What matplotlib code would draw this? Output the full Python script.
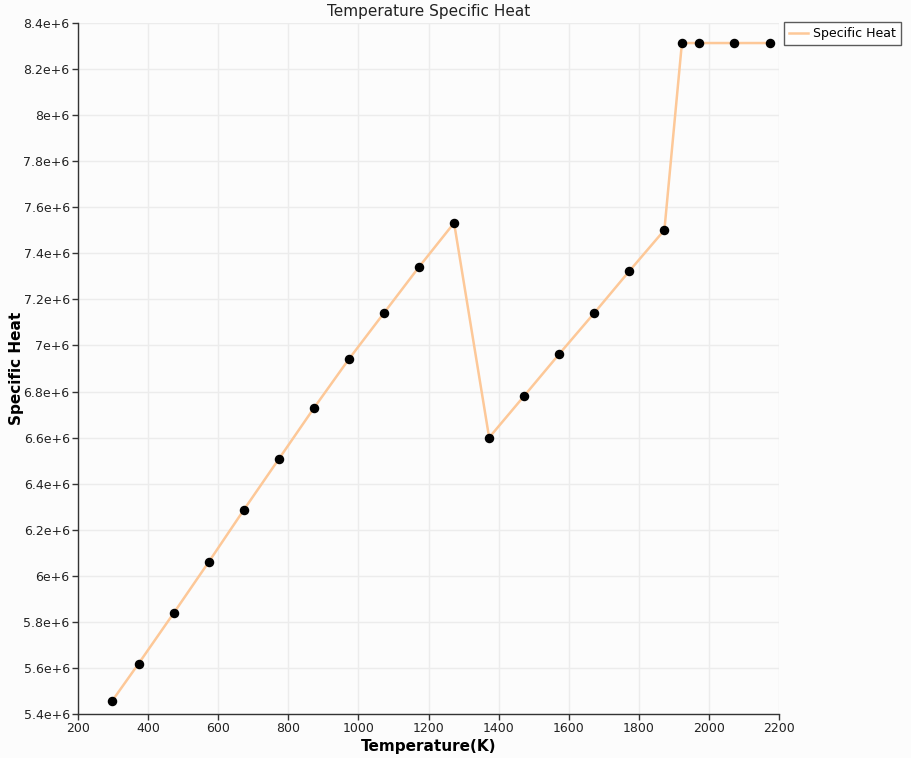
import matplotlib
matplotlib.use("Agg")
import matplotlib.pyplot as plt
from matplotlib.ticker import FuncFormatter

temperature = [298, 373, 473, 573, 673, 773, 873, 973, 1073, 1173, 1273,
               1373, 1473, 1573, 1673, 1773, 1873, 1923, 1973, 2073, 2173]
specific_heat = [5.458e6, 5.619e6, 5.838e6, 6.060e6, 6.286e6, 6.507e6, 6.728e6,
                 6.941e6, 7.141e6, 7.341e6, 7.532e6, 6.600e6, 6.781e6, 6.963e6,
                 7.141e6, 7.323e6, 7.501e6, 8.313e6, 8.313e6, 8.313e6, 8.313e6]
x_ticks = [200, 400, 600, 800, 1000, 1200, 1400, 1600, 1800, 2000, 2200]
y_ticks = [5.4e6, 5.6e6, 5.8e6, 6.0e6, 6.2e6, 6.4e6, 6.6e6, 6.8e6, 7.0e6,
           7.2e6, 7.4e6, 7.6e6, 7.8e6, 8.0e6, 8.2e6, 8.4e6]

plt.rcParams['font.family'] = ['DejaVu Sans']

fig = plt.figure(figsize=(9.11, 7.58), dpi=100)
fig.patch.set_facecolor('#fcfcfc')
ax = fig.add_axes([78/911, 1-714/758, (779-78)/911, (714-23)/758])
ax.set_facecolor('#fcfcfc')

ax.plot(temperature, specific_heat, color='#fdc898', lw=1.8, zorder=2,
        label='Specific Heat')
ax.scatter(temperature, specific_heat, color='black', s=34, zorder=3)

ax.set_xlim(200, 2200)
ax.set_ylim(5.4e6, 8.4e6)
ax.set_xticks(x_ticks)
ax.set_yticks(y_ticks)

def yfmt(v, pos):
    m = v / 1e6
    s = ('%.1f' % m).rstrip('0').rstrip('.')
    return s + 'e+6'
ax.yaxis.set_major_formatter(FuncFormatter(yfmt))

ax.grid(True, color='#ececec', lw=1)
ax.set_axisbelow(True)
for s in ['top', 'right']:
    ax.spines[s].set_visible(False)
for s in ['left', 'bottom']:
    ax.spines[s].set_color('#333333')
    ax.spines[s].set_linewidth(1)
ax.tick_params(direction='out', length=4, width=1, color='#333333',
               labelsize=9, labelcolor='#222222', pad=2)

ax.set_title('Temperature Specific Heat', fontsize=11, color='#222222', pad=5)
ax.set_xlabel('Temperature(K)', fontsize=11, fontweight='bold', labelpad=3)
ax.set_ylabel('Specific Heat', fontsize=11, fontweight='bold')
ax.yaxis.set_label_coords((24 - 78) / 701, 0.5)

leg = fig.legend(loc='upper left', bbox_to_anchor=(784/911, 1-22/758),
                 fontsize=9, frameon=True, fancybox=False, edgecolor='#333333',
                 handlelength=1.5, borderpad=0.4, handletextpad=0.4,
                 borderaxespad=0)
leg.get_frame().set_linewidth(1)
leg.get_frame().set_facecolor('white')

fig.savefig('out.png', dpi=100, facecolor=fig.get_facecolor())
